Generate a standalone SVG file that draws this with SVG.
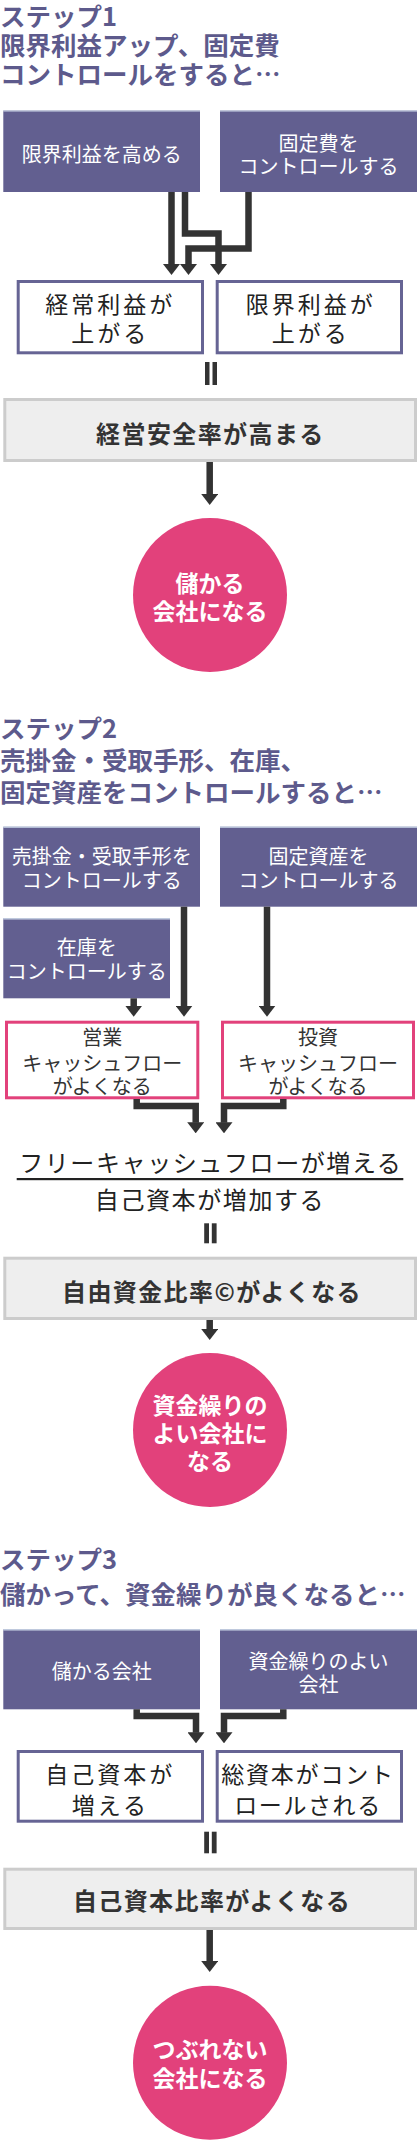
<svg xmlns="http://www.w3.org/2000/svg" width="420" height="2144" viewBox="0 0 420 2144">
<style>
text{font-family:"Noto Sans CJK JP","Noto Sans CJK SC",sans-serif;dominant-baseline:central}
.ttl{font-size:25.5px;font-weight:700;fill:#5d5a8c}
.pb{fill:#625f90}
.pbt{stroke:#cfdcec;stroke-width:1.2}
.bw{font-size:20px;fill:#fff;text-anchor:middle}
.wb{fill:#fff;stroke:#666494;stroke-width:3}
.bk{font-size:23px;fill:#222;text-anchor:middle}
.pkb{fill:#fff;stroke:#e2417b;stroke-width:3}
.pk{font-size:20px;fill:#333;text-anchor:middle}
.gbx{fill:#eeeeee;stroke:#cccccc;stroke-width:3}
.gb{font-size:24px;font-weight:700;fill:#333;text-anchor:middle;letter-spacing:1.4px}
.cir{fill:#e2417b}
.ct{font-size:23px;font-weight:700;fill:#fff;text-anchor:middle}
.ft{font-size:24px;fill:#222;text-anchor:middle;letter-spacing:1.6px}
.ln{fill:none;stroke:#333;stroke-width:6.5;stroke-linejoin:miter;marker-end:url(#ah)}
.eq{fill:#333}
</style>
<defs>
<marker id="ah" markerUnits="userSpaceOnUse" markerWidth="11" markerHeight="17" viewBox="0 0 11 17" refX="0.5" refY="8.5" orient="auto"><path d="M0,0 L11,8.5 L0,17 z" fill="#333"/></marker>
</defs>

<!-- Step 1 -->
<g id="title1">
<text class="ttl" x="0" y="14.5">ステップ1</text>
<text class="ttl" x="0" y="43.5">限界利益アップ、固定費</text>
<text class="ttl" x="0" y="72.5">コントロールをすると…</text>
</g>
<g id="s1a"><rect class="pb" x="3.3" y="110.5" width="196.7" height="81.5"/><line class="pbt" x1="3.3" y1="111" x2="200" y2="111"/><text class="bw" x="101.7" y="153">限界利益を高める</text></g>
<g id="s1b"><rect class="pb" x="220" y="110.5" width="197" height="81.5"/><line class="pbt" x1="220" y1="111" x2="417" y2="111"/><text class="bw" x="318.5" y="142">固定費を</text><text class="bw" x="318.5" y="165">コントロールする</text></g>
<g id="s1c"><rect class="wb" x="18.2" y="281.5" width="184.3" height="71.3"/><text class="bk" x="110.3" y="303.3" style="letter-spacing:3px">経常利益が</text><text class="bk" x="110.3" y="332.3" style="letter-spacing:3px">上がる</text></g>
<g id="s1d"><rect class="wb" x="217.2" y="281.5" width="184.3" height="71.3"/><text class="bk" x="310.8" y="303.3" style="letter-spacing:3px">限界利益が</text><text class="bk" x="310.8" y="332.3" style="letter-spacing:3px">上がる</text></g>
<g id="s1e"><rect class="gbx" x="4.8" y="399.5" width="410.7" height="61"/><text class="gb" x="210.4" y="432">経営安全率が高まる</text></g>
<g id="s1f"><circle class="cir" cx="210" cy="595" r="77"/><text class="ct" x="210" y="581.7">儲かる</text><text class="ct" x="210" y="610">会社になる</text></g>

<!-- Step 2 -->
<g id="title2">
<text class="ttl" x="0" y="726.7">ステップ2</text>
<text class="ttl" x="0" y="758.3">売掛金・受取手形、在庫、</text>
<text class="ttl" x="0" y="790">固定資産をコントロールすると…</text>
</g>
<g id="s2a"><rect class="pb" x="3.3" y="826.7" width="196.7" height="80"/><line class="pbt" x1="3.3" y1="827.2" x2="200" y2="827.2"/><text class="bw" x="101.7" y="855.7">売掛金・受取手形を</text><text class="bw" x="101.7" y="879">コントロールする</text></g>
<g id="s2b"><rect class="pb" x="220" y="826.7" width="197" height="80"/><line class="pbt" x1="220" y1="827.2" x2="417" y2="827.2"/><text class="bw" x="318.5" y="855.7">固定資産を</text><text class="bw" x="318.5" y="879">コントロールする</text></g>
<g id="s2c"><rect class="pb" x="3.3" y="918.3" width="166.7" height="80"/><line class="pbt" x1="3.3" y1="918.8" x2="170" y2="918.8"/><text class="bw" x="86.7" y="946.7">在庫を</text><text class="bw" x="86.7" y="970.7">コントロールする</text></g>
<g id="s2d"><rect class="pkb" x="6.5" y="1022.2" width="191.3" height="75.6"/><text class="pk" x="102.2" y="1036.7">営業</text><text class="pk" x="102.2" y="1062.3">キャッシュフロー</text><text class="pk" x="102.2" y="1085">がよくなる</text></g>
<g id="s2e"><rect class="pkb" x="222.5" y="1022.2" width="191" height="75.6"/><text class="pk" x="318" y="1036.7">投資</text><text class="pk" x="318" y="1062.3">キャッシュフロー</text><text class="pk" x="318" y="1085">がよくなる</text></g>
<g id="s2f"><text class="ft" x="210.8" y="1161.7">フリーキャッシュフローが増える</text><rect x="16.7" y="1178" width="386.6" height="2.2" fill="#222"/><text class="ft" x="210" y="1198.3">自己資本が増加する</text></g>
<g id="s2g"><rect class="gbx" x="4.8" y="1258.2" width="410.7" height="60.3"/><text class="gb" x="212" y="1290">自由資金比率©がよくなる</text></g>
<g id="s2h"><circle class="cir" cx="210" cy="1430" r="77"/><text class="ct" x="210" y="1404">資金繰りの</text><text class="ct" x="210" y="1432">よい会社に</text><text class="ct" x="210" y="1460">なる</text></g>

<!-- Step 3 -->
<g id="title3">
<text class="ttl" x="0" y="1557.5">ステップ3</text>
<text class="ttl" x="0" y="1592.5">儲かって、資金繰りが良くなると…</text>
</g>
<g id="s3a"><rect class="pb" x="3.3" y="1629.3" width="196.7" height="80"/><line class="pbt" x1="3.3" y1="1629.8" x2="200" y2="1629.8"/><text class="bw" x="101.7" y="1670.7">儲かる会社</text></g>
<g id="s3b"><rect class="pb" x="220" y="1629.3" width="197" height="80"/><line class="pbt" x1="220" y1="1629.8" x2="417" y2="1629.8"/><text class="bw" x="318.5" y="1660">資金繰りのよい</text><text class="bw" x="318.5" y="1683.3">会社</text></g>
<g id="s3c"><rect class="wb" x="18.2" y="1751.5" width="184.3" height="69.7"/><text class="bk" x="110.3" y="1773.3" style="letter-spacing:3px">自己資本が</text><text class="bk" x="110.3" y="1804" style="letter-spacing:3px">増える</text></g>
<g id="s3d"><rect class="wb" x="217.2" y="1751.5" width="184.3" height="69.7"/><text class="bk" x="308" y="1773.3" style="letter-spacing:1.8px">総資本がコント</text><text class="bk" x="308" y="1804" style="letter-spacing:1.6px">ロールされる</text></g>
<g id="s3e"><rect class="gbx" x="4.8" y="1869.2" width="410.7" height="59.3"/><text class="gb" x="212" y="1899.3">自己資本比率がよくなる</text></g>
<g id="s3f"><circle class="cir" cx="210" cy="2062.7" r="77"/><text class="ct" x="210" y="2048.3">つぶれない</text><text class="ct" x="210" y="2076.7">会社になる</text></g>

<!-- Connectors -->
<g id="connectors">
<path class="ln" d="M171.5,192 V264.5"/>
<path class="ln" d="M185,192 V233.5 H218.5 V264.5"/>
<path class="ln" d="M248.5,192 V248.5 H188.5 V264.5"/>
<rect class="eq" x="205" y="362" width="4.5" height="23"/>
<rect class="eq" x="212.5" y="362" width="4.5" height="23"/>
<path class="ln" d="M209.7,462 V494.5"/>

<path class="ln" d="M133.7,998.3 V1006.2"/>
<path class="ln" d="M184,906.7 V1006.2"/>
<path class="ln" d="M267,906.7 V1006.2"/>
<path class="ln" d="M136.7,1099 V1106 H195.7 V1122.8"/>
<path class="ln" d="M283.3,1099 V1106 H224 V1122.8"/>
<rect class="eq" x="204.2" y="1223.3" width="4.8" height="20"/>
<rect class="eq" x="211.8" y="1223.3" width="4.8" height="20"/>
<path class="ln" d="M209.7,1320 V1329.5"/>

<path class="ln" d="M136.7,1709.3 V1716 H196 V1732.8"/>
<path class="ln" d="M283.3,1709.3 V1716 H224 V1732.8"/>
<rect class="eq" x="204.2" y="1831.7" width="4.8" height="21.6"/>
<rect class="eq" x="211.8" y="1831.7" width="4.8" height="21.6"/>
<path class="ln" d="M209.7,1930 V1961.5"/>
</g>
</svg>
